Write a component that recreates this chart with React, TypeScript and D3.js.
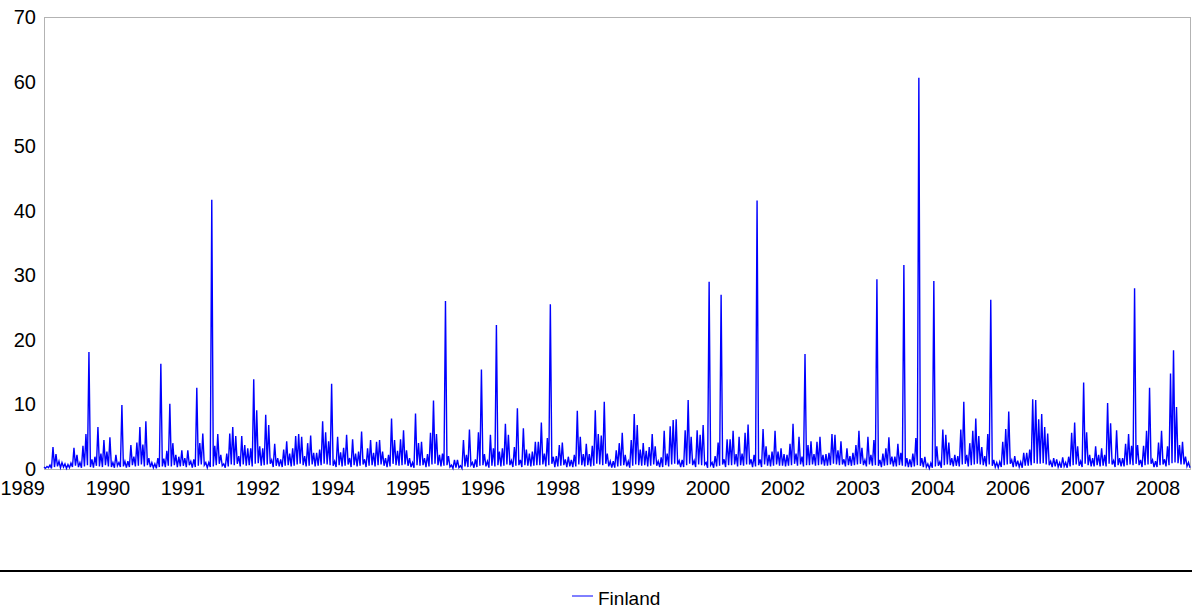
import React from "react";
import * as d3 from "d3";

// Series peaks, one per sampling slot, in time order (1989 → 2008).
const peaks: number[] = [
  0.3, 0.4, 0.6, 3.4, 2.3, 1.2, 1.0, 0.8, 0.7, 0.9,
  3.3, 2.2, 1.0, 3.6, 5.4, 18.1, 1.5, 1.9, 6.5, 2.4,
  4.5, 2.7, 4.9, 1.0, 2.2, 1.0, 9.9, 1.2, 1.2, 3.7,
  1.9, 4.1, 6.5, 3.8, 7.4, 1.7, 1.0, 0.8, 1.7, 16.3,
  1.6, 2.8, 10.1, 4.0, 2.2, 1.9, 2.9, 1.7, 2.9, 1.2,
  1.5, 12.6, 4.0, 5.5, 1.0, 1.0, 41.7, 3.6, 5.4, 2.2,
  0.8, 2.4, 5.5, 6.5, 5.1, 2.0, 5.1, 3.7, 3.2, 3.2,
  13.9, 9.1, 3.5, 3.2, 8.4, 6.8, 1.4, 3.9, 1.7, 1.5,
  3.0, 4.3, 2.4, 3.2, 5.1, 5.4, 5.0, 2.0, 4.0, 5.2,
  2.5, 2.5, 3.0, 7.4, 5.7, 4.3, 13.2, 1.2, 5.0, 2.6,
  3.3, 5.3, 1.7, 4.6, 2.4, 2.7, 5.8, 1.5, 3.2, 4.5,
  2.5, 4.2, 4.5, 2.7, 1.7, 2.2, 7.8, 4.5, 2.8, 4.6,
  6.0, 2.9, 1.7, 1.0, 8.6, 4.0, 4.2, 1.7, 2.3, 5.6,
  10.6, 5.4, 2.2, 2.4, 26.0, 2.0, 0.6, 1.4, 1.4, 0.5,
  4.5, 2.2, 6.1, 1.0, 1.5, 5.7, 15.4, 2.3, 1.2, 5.3,
  3.2, 22.3, 2.7, 3.2, 7.0, 5.3, 1.3, 3.4, 9.4, 1.4,
  6.3, 3.0, 2.4, 2.7, 4.2, 4.2, 7.2, 2.4, 4.8, 25.5,
  1.9, 2.0, 3.7, 4.1, 1.5, 1.9, 1.4, 2.2, 9.0, 5.0,
  2.3, 3.9, 2.3, 3.6, 9.1, 5.4, 5.2, 10.4, 2.4, 1.2,
  1.2, 2.9, 4.0, 5.6, 2.2, 1.2, 4.5, 8.5, 6.8, 3.0,
  4.0, 2.8, 3.4, 5.4, 3.5, 1.2, 1.8, 5.9, 2.4, 6.6,
  7.6, 7.7, 1.3, 1.4, 6.0, 10.7, 5.0, 1.3, 6.0, 5.3,
  6.8, 1.0, 29.0, 1.0, 2.0, 4.1, 27.0, 1.5, 4.6, 4.6,
  5.9, 2.3, 5.0, 2.4, 5.6, 6.9, 1.5, 2.2, 41.6, 1.5,
  6.2, 3.5, 2.2, 2.7, 5.9, 2.7, 3.2, 2.3, 2.2, 3.9,
  7.0, 2.4, 5.0, 1.9, 17.8, 3.7, 4.3, 2.3, 4.2, 5.0,
  2.2, 2.3, 2.5, 5.4, 5.3, 2.9, 4.3, 1.5, 3.2, 2.0,
  2.5, 3.7, 5.9, 3.3, 1.4, 5.0, 2.2, 4.5, 29.4, 1.4,
  2.4, 3.2, 4.9, 1.9, 1.9, 3.9, 2.5, 31.6, 1.7, 1.5,
  2.4, 4.8, 60.6, 1.7, 1.9, 0.8, 0.9, 29.1, 3.5, 1.1,
  6.1, 5.3, 4.1, 1.7, 2.2, 2.0, 6.1, 10.4, 2.2, 4.0,
  5.9, 7.8, 5.1, 3.4, 2.0, 5.4, 26.2, 1.4, 1.0, 1.1,
  4.2, 6.2, 8.9, 1.4, 2.0, 1.3, 1.1, 2.5, 2.5, 3.0,
  10.8, 10.7, 7.7, 8.5, 6.5, 5.5, 1.2, 1.7, 1.5, 1.0,
  1.8, 1.0, 1.9, 5.6, 7.2, 3.5, 1.2, 13.4, 5.7, 2.2,
  1.7, 3.5, 2.2, 3.2, 2.2, 10.2, 7.1, 1.3, 6.0, 1.7,
  1.7, 3.9, 5.4, 3.6, 28.0, 3.7, 1.4, 3.6, 5.9, 12.6,
  1.4, 1.2, 4.1, 5.9, 1.5, 3.5, 14.8, 18.4, 9.6, 3.7,
  4.2, 1.9, 1.0,
];

// Low readings that follow each peak.
const troughs: number[] = [
  0.1, 0.2, 0.1, 0.3, 0.4, 0.2, 0.3, 0.1, 0.2, 0.3, 0.5, 0.3, 0.2, 0.4, 0.6, 0.3, 0.2, 0.5, 0.4, 0.3,
  0.6, 0.4, 0.3, 0.2, 0.5, 0.3, 0.4, 0.2, 0.3, 0.6, 0.4, 0.5, 0.7, 0.4, 0.6, 0.3, 0.2, 0.1, 0.3, 0.4,
  0.3, 0.5, 0.4, 0.6, 0.3, 0.4, 0.5, 0.3, 0.6, 0.2, 0.3, 0.5, 0.7, 0.6, 0.2, 0.3, 0.4, 0.6, 0.8, 0.5,
  0.2, 0.4, 0.7, 0.6, 0.8, 0.4, 0.7, 0.5, 0.6, 0.4, 0.8, 0.9, 0.5, 0.6, 0.7, 0.8, 0.3, 0.5, 0.4, 0.3,
  0.5, 0.6, 0.4, 0.5, 0.7, 0.8, 0.6, 0.4, 0.5, 0.7, 0.4, 0.5, 0.6, 0.8, 0.7, 0.6, 0.5, 0.3, 0.6, 0.4,
  0.5, 0.7, 0.3, 0.6, 0.4, 0.5, 0.7, 0.3, 0.5, 0.6, 0.4, 0.6, 0.7, 0.5, 0.3, 0.4, 0.8, 0.6, 0.5, 0.6,
  0.7, 0.5, 0.3, 0.2, 0.6, 0.5, 0.6, 0.3, 0.4, 0.7, 0.8, 0.6, 0.4, 0.5, 0.6, 0.3, 0.1, 0.2, 0.2, 0.1,
  0.4, 0.3, 0.6, 0.2, 0.3, 0.5, 0.6, 0.4, 0.2, 0.5, 0.4, 0.6, 0.4, 0.5, 0.7, 0.6, 0.3, 0.5, 0.6, 0.3,
  0.6, 0.5, 0.4, 0.5, 0.6, 0.6, 0.7, 0.4, 0.6, 0.8, 0.3, 0.4, 0.5, 0.6, 0.3, 0.4, 0.3, 0.4, 0.7, 0.6,
  0.4, 0.6, 0.4, 0.5, 0.8, 0.7, 0.6, 0.8, 0.4, 0.2, 0.2, 0.4, 0.5, 0.6, 0.4, 0.2, 0.5, 0.7, 0.6, 0.5,
  0.6, 0.4, 0.5, 0.7, 0.5, 0.3, 0.3, 0.6, 0.4, 0.7, 0.8, 0.7, 0.3, 0.3, 0.6, 0.8, 0.6, 0.3, 0.7, 0.6,
  0.7, 0.2, 0.6, 0.2, 0.4, 0.5, 0.7, 0.3, 0.6, 0.6, 0.7, 0.4, 0.6, 0.5, 0.7, 0.7, 0.3, 0.4, 0.6, 0.3,
  0.7, 0.5, 0.4, 0.5, 0.7, 0.5, 0.5, 0.4, 0.5, 0.6, 0.8, 0.5, 0.7, 0.4, 0.6, 0.6, 0.7, 0.5, 0.6, 0.7,
  0.5, 0.5, 0.6, 0.8, 0.7, 0.6, 0.7, 0.4, 0.6, 0.5, 0.6, 0.7, 0.8, 0.6, 0.4, 0.7, 0.5, 0.6, 0.5, 0.3,
  0.5, 0.6, 0.7, 0.4, 0.4, 0.6, 0.5, 0.4, 0.3, 0.3, 0.4, 0.6, 0.5, 0.3, 0.3, 0.1, 0.2, 0.4, 0.5, 0.2,
  0.6, 0.7, 0.6, 0.4, 0.5, 0.4, 0.7, 0.8, 0.4, 0.6, 0.7, 0.8, 0.7, 0.6, 0.4, 0.7, 0.5, 0.3, 0.2, 0.3,
  0.6, 0.7, 0.8, 0.3, 0.4, 0.3, 0.2, 0.5, 0.5, 0.6, 0.9, 0.8, 0.8, 0.9, 0.7, 0.6, 0.3, 0.4, 0.3, 0.2,
  0.4, 0.2, 0.4, 0.6, 0.7, 0.5, 0.3, 0.8, 0.6, 0.4, 0.4, 0.6, 0.4, 0.5, 0.4, 0.8, 0.7, 0.3, 0.6, 0.4,
  0.4, 0.6, 0.7, 0.6, 0.8, 0.6, 0.3, 0.6, 0.7, 0.8, 0.3, 0.3, 0.6, 0.7, 0.4, 0.6, 0.9, 1.0, 0.9, 0.7,
  0.7, 0.4, 0.2,
];

// Category axis labels (one every fixed number of samples).
const yearLabels: string[] = [
  "1989", "1990", "1991", "1992", "1994", "1995", "1996", "1998",
  "1999", "2000", "2002", "2003", "2004", "2006", "2007", "2008",
];

const yTicks: number[] = [0, 10, 20, 30, 40, 50, 60, 70];
const seriesName = "Finland";

const W = 1192;
const H = 610;
const plot = { left: 44, top: 17, right: 1190, bottom: 469 };
const FONT = "'Liberation Sans', Arial, Helvetica, sans-serif";
const BLUE = "#0000ff";

export default function App() {
  const series = peaks.flatMap((p, i) => [p, troughs[i]]);

  const x = d3
    .scaleLinear()
    .domain([0, series.length - 1])
    .range([plot.left, plot.right]);
  const y = d3.scaleLinear().domain([0, 70]).range([plot.bottom, plot.top]);

  const linePath =
    d3
      .line<number>()
      .x((_, i) => x(i))
      .y((d) => y(d))(series) ?? "";

  const xLab = d3.scalePoint<string>().domain(yearLabels).range([33, 1158]);

  return (
    <svg
      width={W}
      height={H}
      viewBox={`0 0 ${W} ${H}`}
      style={{ position: "absolute", left: 0, top: 0, background: "#fff" }}
      fontFamily={FONT}
    >
      <rect x={0} y={0} width={W} height={H} fill="#fff" />

      {/* plot frame */}
      <rect
        x={plot.left + 0.5}
        y={plot.top + 0.5}
        width={plot.right - plot.left}
        height={plot.bottom - plot.top}
        fill="none"
        stroke="#b3b3b3"
        strokeWidth={1}
      />

      {/* y axis labels */}
      {yTicks.map((t) => (
        <text
          key={t}
          x={36}
          y={y(t) + 7}
          fontSize={20}
          textAnchor="end"
          fill="#000"
        >
          {t}
        </text>
      ))}

      {/* x axis labels */}
      {yearLabels.map((lab, i) => (
        <text
          key={lab}
          x={i === 0 ? plot.left + 1 : (xLab(lab) as number)}
          y={plot.bottom + 26}
          fontSize={20}
          textAnchor={i === 0 ? "end" : "middle"}
          fill="#000"
        >
          {lab}
        </text>
      ))}

      {/* series */}
      <path d={linePath} fill="none" stroke={BLUE} strokeWidth={1.4} strokeLinejoin="miter" />

      {/* separator above legend */}
      <rect x={0} y={570} width={W} height={2} fill="#000" />

      {/* legend */}
      <line x1={572} x2={593} y1={596} y2={596} stroke={BLUE} strokeWidth={1} />
      <text x={598} y={605} fontSize={19} fill="#000">
        {seriesName}
      </text>
    </svg>
  );
}
